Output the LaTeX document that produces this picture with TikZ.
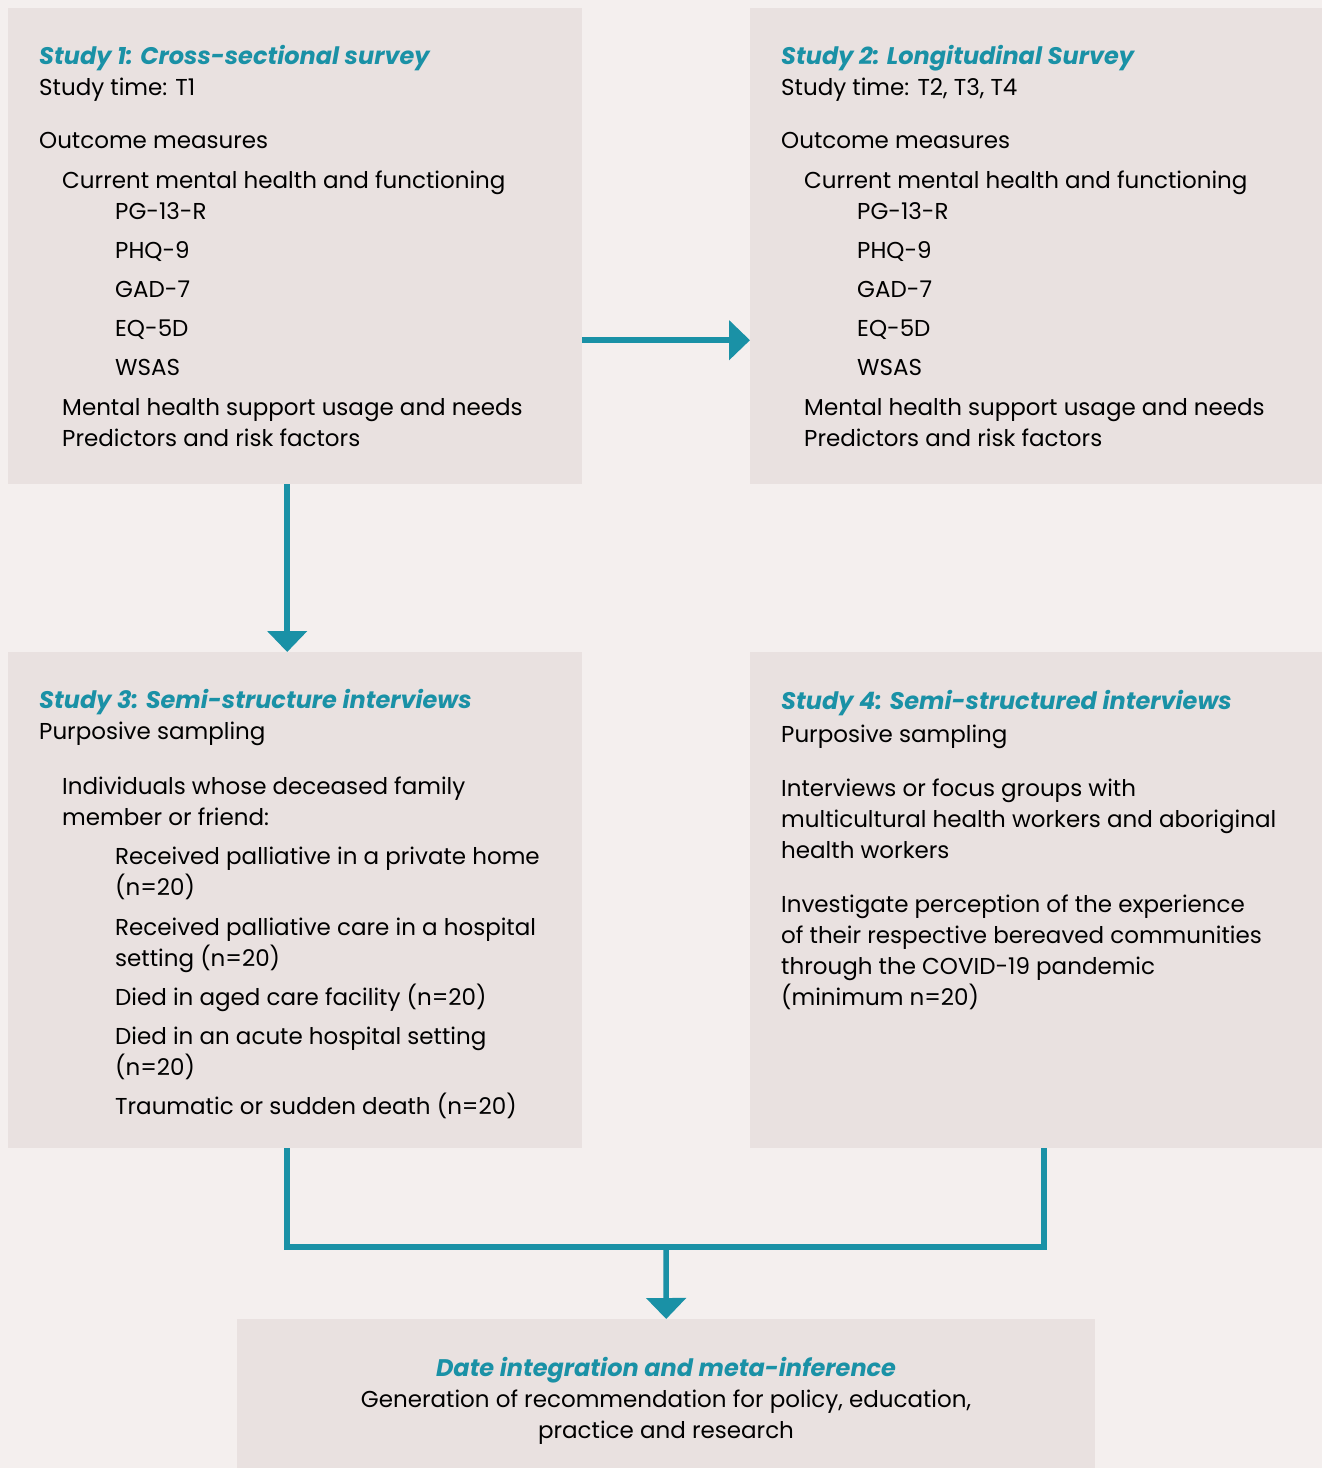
\documentclass[tikz,border=0pt]{standalone}
\usepackage{fontspec}
\setmainfont{Poppins}
\usetikzlibrary{arrows.meta,positioning,calc}

\definecolor{pagebg}{HTML}{F4EFEE}
\definecolor{panelbg}{HTML}{E9E1E0}
\definecolor{studyteal}{HTML}{1A91A6}
\newcommand{\studyhead}[1]{{\color{studyteal}\bfseries\itshape\fontsize{24}{31}\selectfont #1}}

\begin{document}
\begin{tikzpicture}[x=1pt, y=-1pt,
panel/.style={fill=panelbg, draw=none, anchor=north west, inner sep=0pt},
paneltext/.style={anchor=base west, align=left, inner sep=0pt, font=\fontsize{23}{31}\selectfont},
link/.style={draw=studyteal, line width=5.5pt},
arrow/.style={link, -{Triangle[length=21pt, width=39pt]}}
]
\fill[pagebg] (0,0) rectangle (1322,1468);
\useasboundingbox (0,0) rectangle (1322,1468);

% panels
\node[panel, minimum width=574pt, minimum height=476pt] (study1) at (8,8) {};
\node[panel, minimum width=572pt, minimum height=476pt] (study2) at (750,8) {};
\node[panel, minimum width=574pt, minimum height=496pt] (study3) at (8,652) {};
\node[panel, minimum width=572pt, minimum height=496pt] (study4) at (750,652) {};
\node[panel, minimum width=858pt, minimum height=149pt] (synth) at (237,1319) {};

% panel contents (placed by the baseline of their last line)
\node[paneltext] (study1txt) at (39,446) {\studyhead{Study 1: Cross-sectional survey}\\
Study time: T1\\[22pt]
Outcome measures\\[9pt]
\hspace*{23pt}Current mental health and functioning\\
\hspace*{76pt}PG-13-R\\[8pt]
\hspace*{76pt}PHQ-9\\[8pt]
\hspace*{76pt}GAD-7\\[8pt]
\hspace*{76pt}EQ-5D\\[8pt]
\hspace*{76pt}WSAS\\[9pt]
\hspace*{23pt}Mental health support usage and needs\\
\hspace*{23pt}Predictors and risk factors};

\node[paneltext] (study2txt) at (781,446) {\studyhead{Study 2: Longitudinal Survey}\\
Study time: T2, T3, T4\\[22pt]
Outcome measures\\[9pt]
\hspace*{23pt}Current mental health and functioning\\
\hspace*{76pt}PG-13-R\\[8pt]
\hspace*{76pt}PHQ-9\\[8pt]
\hspace*{76pt}GAD-7\\[8pt]
\hspace*{76pt}EQ-5D\\[8pt]
\hspace*{76pt}WSAS\\[9pt]
\hspace*{23pt}Mental health support usage and needs\\
\hspace*{23pt}Predictors and risk factors};

\node[paneltext] (study3txt) at (39,1114) {\studyhead{Study 3: Semi-structure interviews}\\
Purposive sampling\\[24pt]
\hspace*{23pt}Individuals whose deceased family\\
\hspace*{23pt}member or friend:\\[8pt]
\hspace*{76pt}Received palliative in a private home\\
\hspace*{76pt}(n=20)\\[9pt]
\hspace*{76pt}Received palliative care in a hospital\\
\hspace*{76pt}setting (n=20)\\[8pt]
\hspace*{76pt}Died in aged care facility (n=20)\\[8pt]
\hspace*{76pt}Died in an acute hospital setting\\
\hspace*{76pt}(n=20)\\[8pt]
\hspace*{76pt}Traumatic or sudden death (n=20)};

\node[paneltext] (study4txt) at (781,1005) {\studyhead{Study 4: Semi-structured interviews}\\[2pt]
Purposive sampling\\[23pt]
Interviews or focus groups with\\
multicultural health workers and aboriginal\\
health workers\\[23pt]
Investigate perception of the experience\\
of their respective bereaved communities\\
through the COVID-19 pandemic\\
(minimum n=20)};

\node[paneltext, anchor=base, align=center] (synthtxt) at (666,1438) {\studyhead{Date integration and meta-inference}\\
Generation of recommendation for policy, education,\\
practice and research};

% connectors
\coordinate (merge) at (666,1247);
\draw[arrow] ([yshift=-94pt]study1.east) -- ([yshift=-94pt]study2.west);
\draw[arrow] ([xshift=-8pt]study1.south) -- ([xshift=-8pt]study3.north);
\draw[link] ([xshift=-8pt]study3.south) |- (merge) -| ([xshift=8pt]study4.south);
\draw[arrow] (merge) -- (synth.north);
\end{tikzpicture}
\end{document}
